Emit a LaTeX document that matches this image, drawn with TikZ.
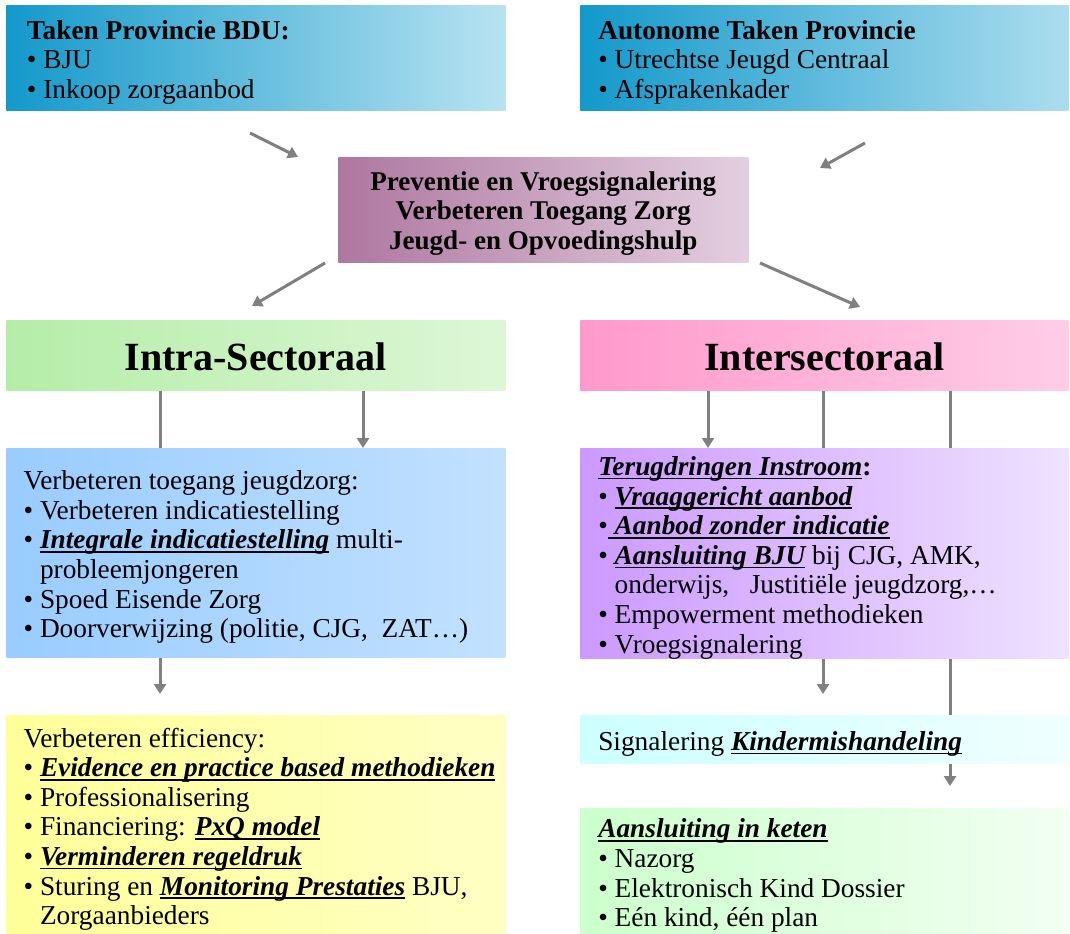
\documentclass[tikz,border=0pt]{standalone}
\usepackage{fontspec}
\setmainfont{Liberation Serif}
\usetikzlibrary{arrows.meta,calc}
\definecolor{topL}{HTML}{1399CB}
\definecolor{topR}{HTML}{B8E3F1}
\definecolor{topRb}{HTML}{ACDDEE}
\definecolor{midL}{HTML}{AE77A0}
\definecolor{midR}{HTML}{E3CFE0}
\definecolor{intraL}{HTML}{B5EDA8}
\definecolor{intraR}{HTML}{DDF7D6}
\definecolor{interL}{HTML}{FF99CC}
\definecolor{interR}{HTML}{FFCDE6}
\definecolor{blueL}{HTML}{99CCFF}
\definecolor{blueR}{HTML}{C2E1FF}
\definecolor{purpL}{HTML}{CC99FF}
\definecolor{purpR}{HTML}{EFE2FF}
\definecolor{yelL}{HTML}{FFFF99}
\definecolor{yelR}{HTML}{FFFFC4}
\definecolor{cyanL}{HTML}{CCFFFF}
\definecolor{cyanR}{HTML}{F0FFFF}
\definecolor{grnL}{HTML}{CCFFCC}
\definecolor{grnR}{HTML}{F2FFF2}
\definecolor{arrowgray}{HTML}{808080}
\newsavebox\ulbox
\newcommand\bui[1]{\sbox\ulbox{\bfseries\itshape #1}\rlap{\rule[-3pt]{\wd\ulbox}{1.2pt}}\usebox\ulbox}
\newcommand\bul{\textbullet\ }
\newcommand\ind{\hphantom{\textbullet}\ }
\tikzset{
  box/.style={anchor=north west, inner sep=0pt, draw=none},
  txt/.style={anchor=west, align=left, inner sep=0pt, yshift=-3.3pt, font=\fontsize{20.5}{22.2}\selectfont},
  ctxt/.style={align=center, inner sep=0pt, yshift=-2.6pt, font=\fontsize{20.3}{22.2}\selectfont\bfseries},
  bigtxt/.style={inner sep=0pt, yshift=-1.5pt, font=\fontsize{30}{32}\selectfont\bfseries},
  conn/.style={draw=arrowgray, line width=2.25pt},
  arr/.style={conn, -{Triangle[width=9pt,length=7.5pt]}}
}
\begin{document}
\begin{tikzpicture}[x=0.75pt, y=-0.75pt]
\useasboundingbox (0,0) rectangle (1070,934);

% boxes
\node[box, left color=topL, right color=topR, minimum width=374.25pt, minimum height=78.75pt] (b1) at (6,5) {};
\node[box, left color=topL, right color=topRb, minimum width=366pt, minimum height=78.75pt] (b2) at (580,5) {};
\node[box, left color=midL, right color=midR, minimum width=307.5pt, minimum height=78.75pt] (mid) at (338,157) {};
\node[box, left color=intraL, right color=intraR, minimum width=374.25pt, minimum height=52.5pt] (intra) at (6,320) {};
\node[box, left color=interL, right color=interR, minimum width=366pt, minimum height=52.5pt] (inter) at (580,320) {};
\node[box, left color=blueL, right color=blueR, minimum width=374.25pt, minimum height=156.75pt] (blue) at (6,448) {};
\node[box, left color=purpL, right color=purpR, minimum width=366pt, minimum height=157.5pt] (purp) at (580,448) {};
\node[box, left color=yelL, right color=yelR, minimum width=374.25pt, minimum height=164.25pt] (yel) at (6,715) {};
\node[box, left color=cyanL, right color=cyanR, minimum width=366pt, minimum height=36pt] (sig) at (580,715) {};
\node[box, left color=grnL, right color=grnR, minimum width=366pt, minimum height=94.5pt] (grn) at (580,808) {};

% texts
\node[txt, xshift=15.5pt] (t1) at (b1.west) {\textbf{Taken Provincie BDU:}\\ \bul BJU\\ \bul Inkoop zorgaanbod};
\node[txt, xshift=13.5pt] (t2) at (b2.west) {\textbf{Autonome Taken Provincie}\\ \bul Utrechtse Jeugd Centraal\\ \bul Afsprakenkader};
\node[ctxt] (tm) at (mid.center) {Preventie en Vroegsignalering\\ Verbeteren Toegang Zorg\\ Jeugd- en Opvoedingshulp};
\node[bigtxt] (ti) at (intra.center) {Intra-Sectoraal};
\node[bigtxt] (tn) at (inter.center) {Intersectoraal};
\node[txt, xshift=13pt] (tb) at (blue.west) {Verbeteren toegang jeugdzorg:\\
 \bul Verbeteren indicatiestelling\\
 \bul \bui{Integrale indicatiestelling} multi-\\
 \ind probleemjongeren\\
 \bul Spoed Eisende Zorg\\
 \bul Doorverwijzing (politie, CJG,\ \ ZAT…)};
\node[txt, xshift=13.5pt] (tp) at (purp.west) {\bui{Terugdringen Instroom}\textbf{:}\\
 \bul \bui{Vraaggericht aanbod}\\
 \textbullet\bui{\ Aanbod zonder indicatie}\\
 \bul \bui{Aansluiting BJU} bij CJG, AMK,\\
 \ind onderwijs,\ \ \ Justitiële jeugdzorg,…\\
 \bul Empowerment methodieken\\
 \bul Vroegsignalering};
\node[txt, xshift=13pt] (ty) at (yel.west) {Verbeteren efficiency:\\
 \bul \bui{Evidence en practice based methodieken}\\
 \bul Professionalisering\\
 \bul Financiering: \bui{PxQ model}\\
 \bul \bui{Verminderen regeldruk}\\
 \bul Sturing en \bui{Monitoring Prestaties} BJU,\\
 \ind Zorgaanbieders};
\node[txt, xshift=13.5pt] (ts) at (sig.west) {Signalering \bui{Kindermishandeling}};
\node[txt, xshift=13.5pt] (tg) at (grn.west) {\bui{Aansluiting in keten}\\
 \bul Nazorg\\
 \bul Elektronisch Kind Dossier\\
 \bul Eén kind, één plan};

% connector coordinates
\coordinate (a1s) at (250,133); \coordinate (a1e) at (298,157);
\coordinate (a2s) at (865,143); \coordinate (a2e) at (820,168);
\coordinate (a3s) at (325,263); \coordinate (a3e) at (252,306);
\coordinate (a4s) at (760,263); \coordinate (a4e) at (860,307);
\coordinate (x160) at (160,0);
\coordinate (x363) at (363,0);
\coordinate (x708) at (708,0);
\coordinate (x823) at (823,0);
\coordinate (x950) at (950,0);
\coordinate (e1) at (160,694);
\coordinate (e2) at (823,694);
\coordinate (e3) at (950,786);

\draw[arr] (a1s) -- (a1e);
\draw[arr] (a2s) -- (a2e);
\draw[arr] (a3s) -- (a3e);
\draw[arr] (a4s) -- (a4e);
\draw[conn] (x160 |- intra.south) -- (x160 |- blue.north);
\draw[arr] (x363 |- intra.south) -- (x363 |- blue.north);
\draw[arr] (x160 |- blue.south) -- (e1);
\draw[arr] (x708 |- inter.south) -- (x708 |- purp.north);
\draw[conn] (x823 |- inter.south) -- (x823 |- purp.north);
\draw[conn] (x950 |- inter.south) -- (x950 |- purp.north);
\draw[arr] (x823 |- purp.south) -- (e2);
\draw[conn] (x950 |- purp.south) -- (x950 |- sig.north);
\draw[arr] (x950 |- sig.south) -- (e3);
\end{tikzpicture}
\end{document}
